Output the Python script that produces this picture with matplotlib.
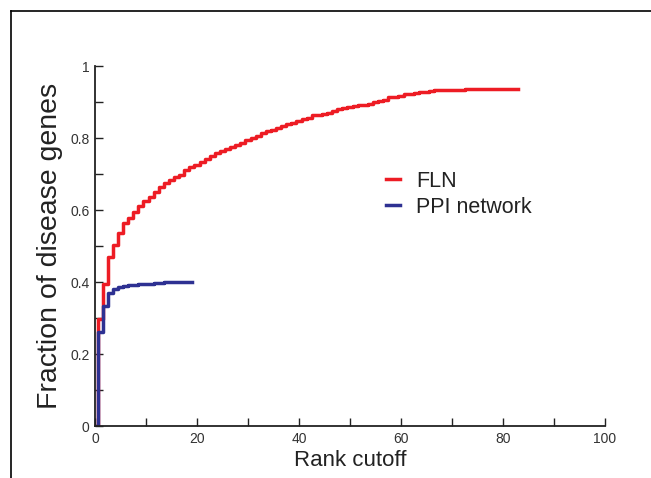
import matplotlib
matplotlib.use("Agg")
import matplotlib.pyplot as plt
from matplotlib.lines import Line2D

# ---- data ----
fln_values = [0.297, 0.395, 0.470, 0.503, 0.535, 0.563, 0.577, 0.595, 0.611, 0.626,
              0.637, 0.649, 0.663, 0.674, 0.683, 0.692, 0.697, 0.711, 0.719, 0.725,
              0.732, 0.742, 0.750, 0.757, 0.764, 0.769, 0.774, 0.781, 0.787, 0.794,
              0.800, 0.806, 0.813, 0.819, 0.823, 0.827, 0.832, 0.840, 0.843, 0.846,
              0.852, 0.856, 0.863, 0.865, 0.868, 0.870, 0.875, 0.881, 0.883, 0.885,
              0.889, 0.891, 0.893, 0.895, 0.899, 0.903, 0.906, 0.913, 0.915, 0.917,
              0.921, 0.923, 0.925, 0.927, 0.929, 0.931, 0.932, 0.933, 0.933, 0.934,
              0.934, 0.934, 0.935, 0.935, 0.935, 0.935, 0.935, 0.935, 0.935, 0.935,
              0.935, 0.935, 0.935]
ppi_values = [0.262, 0.334, 0.370, 0.381, 0.387, 0.390, 0.392, 0.393, 0.394, 0.394,
              0.395, 0.396, 0.398, 0.399, 0.400, 0.401, 0.401, 0.401, 0.401]
fln_ranks = [0] + list(range(1, len(fln_values) + 1))
ppi_ranks = [0] + list(range(1, len(ppi_values) + 1))
fln_y = [0.0] + fln_values
ppi_y = [0.0] + ppi_values

series_labels = ["FLN", "PPI network"]
x_ticks = [0, 20, 40, 60, 80, 100]
x_tick_labels = ["0", "20", "40", "60", "80", "100"]
x_minor = [10, 30, 50, 70, 90]
y_ticks = [0, 0.2, 0.4, 0.6, 0.8, 1.0]
y_tick_labels = ["0", "0.2", "0.4", "0.6", "0.8", "1"]
y_minor = [0.1, 0.3, 0.5, 0.7, 0.9]

RED = "#ED1C24"
BLUE = "#2E3192"

plt.rcParams["font.family"] = ["Liberation Sans", "DejaVu Sans"]

fig = plt.figure(figsize=(6.51, 4.78), dpi=100)
ax = fig.add_axes([95 / 651, 52 / 478, 510 / 651, 360 / 478])

ax.step(fln_ranks, fln_y, where="mid", color=RED, lw=2.5, label=series_labels[0])
ax.step(ppi_ranks, ppi_y, where="mid", color=BLUE, lw=2.5, label=series_labels[1])

ax.set_xlim(0, 100)
ax.set_ylim(0, 1)
for s in ["top", "right"]:
    ax.spines[s].set_visible(False)
for s in ["left", "bottom"]:
    ax.spines[s].set_linewidth(1.3)
    ax.spines[s].set_color("#222222")

ax.set_xticks(x_ticks)
ax.set_xticklabels(x_tick_labels)
ax.set_xticks(x_minor, minor=True)
ax.set_yticks(y_ticks)
ax.set_yticklabels(y_tick_labels)
ax.set_yticks(y_minor, minor=True)
ax.tick_params(which="both", direction="in", length=6, width=1.0, color="#222222",
               labelsize=10, labelcolor="#333333", pad=4)

ax.set_xlabel("Rank cutoff", fontsize=16, color="#222222", labelpad=3)
ax.set_ylabel("Fraction of disease genes", fontsize=20.5, color="#222222", labelpad=5)

leg = ax.legend(loc="upper left", bbox_to_anchor=(386 / 651, 1 - 171 / 478),
                bbox_transform=fig.transFigure, frameon=False, fontsize=15.5,
                handlelength=0.65, handletextpad=0.75, labelspacing=0.22,
                borderpad=0, borderaxespad=0)
for t in leg.get_texts():
    t.set_color("#222222")

# outer frame lines (top and left)
fig.add_artist(Line2D([11 / 651, 1.0], [1 - 11 / 478, 1 - 11 / 478],
                      transform=fig.transFigure, color="black", lw=1.2))
fig.add_artist(Line2D([11 / 651, 11 / 651], [0.0, 1 - 11 / 478],
                      transform=fig.transFigure, color="black", lw=1.2))

fig.savefig("out.png", dpi=100)
